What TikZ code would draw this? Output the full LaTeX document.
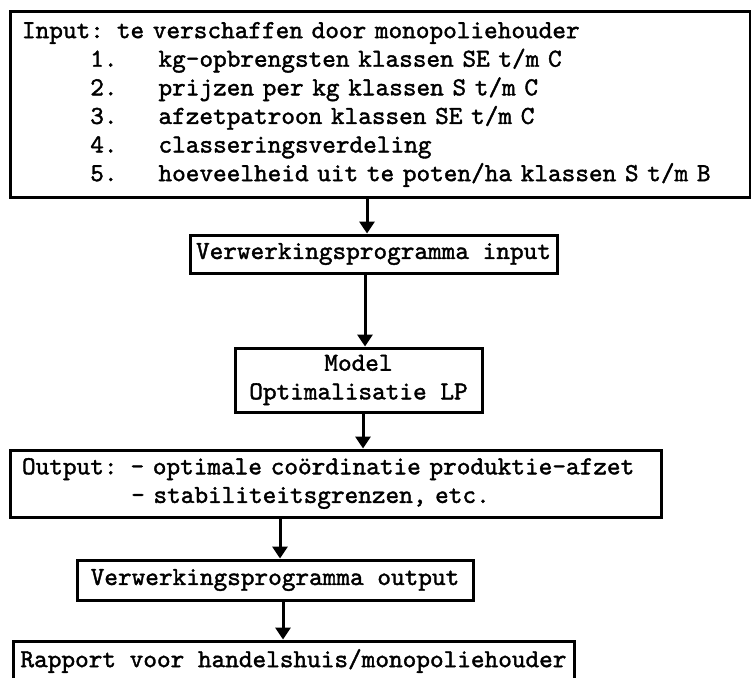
\documentclass[tikz,border=0pt]{standalone}
\usepackage{fontspec}
\newfontfamily\typew[Extension=.otf, FakeBold=1.5]{lmmono10-regular}
\usetikzlibrary{positioning, calc, arrows.meta}

\begin{document}
\begin{tikzpicture}[x=1pt,y=-1pt,-,>={Triangle[length=12pt,width=15pt]},line width=3pt,
     blok/.style={draw, rectangle, inner sep=0pt, align=center,
	font=\typew\fontsize{26}{28.6}\selectfont}]

  \path[use as bounding box] (0,0) rectangle (751,677);
  \clip (0,0) rectangle (751,677);

  \node[blok, align=left, text width=716pt, inner xsep=12pt,
	minimum height=185pt] (inp) at (380,104.5) {Input: te verschaffen door monopoliehouder\\
   \hphantom{00000}1.\hphantom{000}kg-opbrengsten klassen SE t/m C\\
   \hphantom{00000}2.\hphantom{000}prijzen per kg klassen S t/m C\\
   \hphantom{00000}3.\hphantom{000}afzetpatroon klassen SE t/m C\\
   \hphantom{00000}4.\hphantom{000}classeringsverdeling\\
   \hphantom{00000}5.\hphantom{000}hoeveelheid uit te poten/ha klassen S t/m B};
  \node[blok, minimum width=367pt, minimum height=38pt] (vpi) at (373.5,254) {Verwerkingsprogramma input};
  \node[blok, minimum width=247pt, minimum height=64pt] (lp) at (358.5,380) {Model\\Optimalisatie LP};
  \node[blok, align=left, text width=627pt, inner xsep=12pt,
	minimum height=67pt] (outp) at (335.5,483.5) {Output: - optimale coördinatie produktie-afzet\\
   \hphantom{00000000}- stabiliteitsgrenzen, etc.};
  \node[blok, minimum width=396pt, minimum height=40pt] (vpo) at (275,580) {Verwerkingsprogramma output};
  \node[blok, minimum width=561pt, minimum height=40pt] (rap) at (293.5,661) {Rapport voor handelshuis/monopoliehouder};

  \path[->]
   ([xshift=-6.5pt]vpi.north |- inp.south) edge ([xshift=-6.5pt]vpi.north)
   ([xshift=-8.5pt]vpi.south) edge ([xshift=-8.5pt]vpi.south |- lp.north)
   ([xshift=4.5pt]lp.south) edge ([xshift=4.5pt]lp.south |- outp.north)
   ([xshift=5pt]vpo.north |- outp.south) edge ([xshift=5pt]vpo.north)
   ([xshift=8pt]vpo.south) edge ([xshift=8pt]vpo.south |- rap.north);
\end{tikzpicture}
\end{document}
